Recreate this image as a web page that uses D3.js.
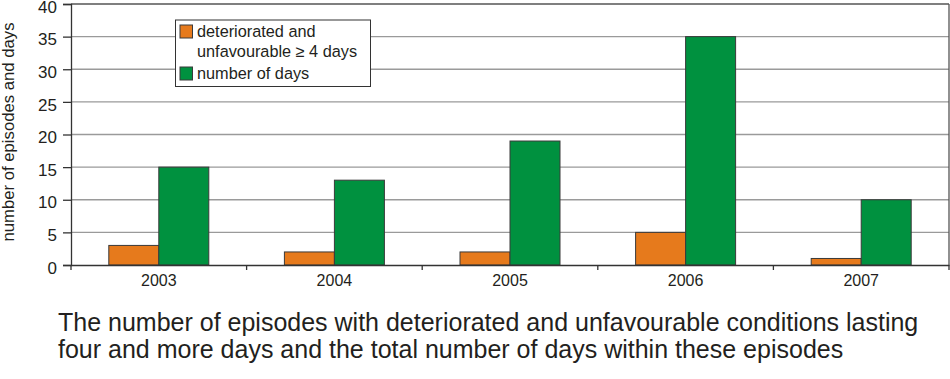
<!DOCTYPE html>
<html><head><meta charset="utf-8">
<script src="https://cdn.jsdelivr.net/npm/d3@7"></script>
<style>
body{margin:0;background:#fff;}
text{font-family:"Liberation Sans",Arial,sans-serif;fill:#231f20;}
</style></head><body>
<svg id="c" width="950" height="379"></svg>
<script>
const years = ["2003","2004","2005","2006","2007"];
const episodes = [3, 2, 2, 5, 1];
const days = [15, 13, 19, 35, 10];
const seriesNames = ["deteriorated and|unfavourable \u2265 4 days", "number of days"];
const seriesColors = ["#E67A1C", "#00913F"];
const yTicks = [0,5,10,15,20,25,30,35,40];
const captionLines = ["The number of episodes with deteriorated and unfavourable conditions lasting",
                      "four and more days and the total number of days within these episodes"];
const yLabel = "number of episodes and days";

const svg = d3.select("#c");
const L = 71, R = 949, T = 4, B = 265;
const x = d3.scaleBand().domain(years).range([L, R]);
const y = d3.scaleLinear().domain([0, 40]).range([B, T]);
const barW = 50;

// gridlines
svg.append("g").selectAll("line").data(yTicks.filter(d => d > 0 && d < 40)).join("line")
  .attr("x1", L).attr("x2", R).attr("y1", d => y(d)).attr("y2", d => y(d))
  .attr("stroke", "#9a9a9a").attr("stroke-width", 1.3);

// frame top & right
svg.append("line").attr("x1", L).attr("x2", R).attr("y1", y(40)).attr("y2", y(40)).attr("stroke", "#555").attr("stroke-width", 1.3);
svg.append("line").attr("x1", R).attr("x2", R).attr("y1", T).attr("y2", B).attr("stroke", "#555").attr("stroke-width", 1.3);

// bars
const series = [episodes, days];
series.forEach((vals, si) => {
  svg.append("g").selectAll("rect").data(years).join("rect")
    .attr("x", d => x(d) + x.bandwidth()/2 - barW + si*barW)
    .attr("width", barW)
    .attr("y", (d,i) => y(vals[i]))
    .attr("height", (d,i) => y(0) - y(vals[i]))
    .attr("fill", seriesColors[si])
    .attr("stroke", "#3a3a3a").attr("stroke-width", 1);
});

// y axis
const yAxis = svg.append("g").attr("transform", `translate(${L},0)`)
  .call(d3.axisLeft(y).tickValues(yTicks).tickSize(8).tickPadding(6));
yAxis.select(".domain").attr("stroke", "#333").attr("stroke-width", 1.3);
yAxis.selectAll(".tick line").attr("stroke", "#333").attr("stroke-width", 1.3);
yAxis.selectAll("text").attr("font-size", 17).attr("dy", "0.48em").attr("fill", "#231f20");

// x axis
const xAxis = svg.append("g").attr("transform", `translate(0,${B})`)
  .call(d3.axisBottom(x).tickSize(0).tickPadding(10));
xAxis.select(".domain").attr("stroke", "#333").attr("stroke-width", 1.3);
xAxis.selectAll("text").attr("font-size", 16).attr("fill", "#231f20");
// boundary ticks
const bounds = years.map(d => x(d)).concat([R]);
svg.append("g").selectAll("line").data(bounds).join("line")
  .attr("x1", d => d).attr("x2", d => d).attr("y1", B).attr("y2", B + 5)
  .attr("stroke", "#333").attr("stroke-width", 1.3);

// y label
svg.append("text").attr("transform", `translate(14,132) rotate(-90)`)
  .attr("text-anchor", "middle").attr("font-size", 16.5)
  .attr("textLength", 219).attr("lengthAdjust", "spacingAndGlyphs").text(yLabel);

// legend
const lg = svg.append("g");
lg.append("rect").attr("x", 175.5).attr("y", 20).attr("width", 195).attr("height", 66.5)
  .attr("fill", "#fff").attr("stroke", "#333").attr("stroke-width", 1);
const legY = [25, 67];
seriesNames.forEach((n, i) => {
  lg.append("rect").attr("x", 180).attr("y", legY[i]).attr("width", 12.5).attr("height", 13)
    .attr("fill", seriesColors[i]).attr("stroke", "#3a3a3a").attr("stroke-width", 1);
  n.split("|").forEach((line, j) => {
    lg.append("text").attr("x", 197).attr("y", legY[i] + 12 + j*20).attr("font-size", 16.3).text(line);
  });
});

// caption
svg.append("g").selectAll("text").data(captionLines).join("text")
  .attr("x", 58).attr("y", (d,i) => 331 + i*27).attr("font-size", 25).text(d => d);
</script></body></html>
